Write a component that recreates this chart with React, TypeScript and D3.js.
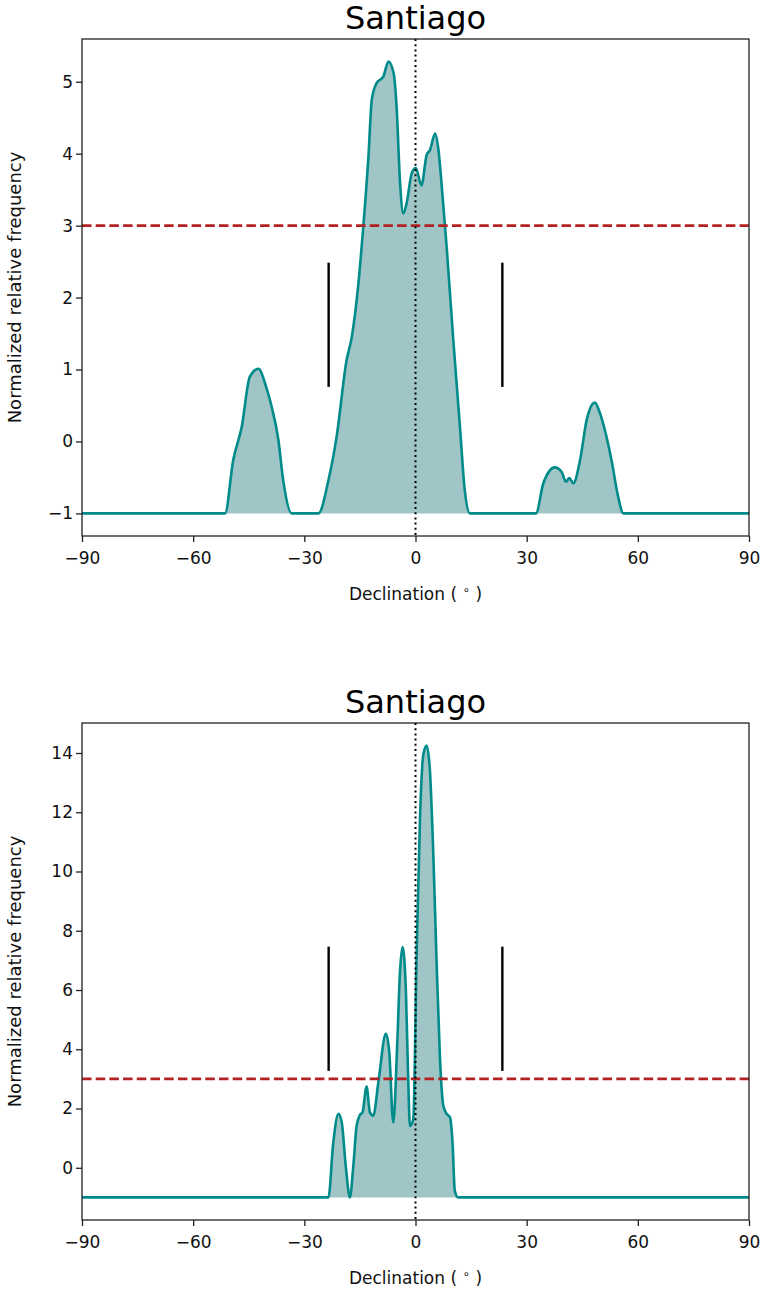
import { useRef, useEffect } from 'react';
import * as d3 from 'd3';

// top panel curve (declination in degrees, normalized frequency)
const topDecl = [-90, -51.4, -49.2, -46.9, -44.7, -42.4, -40.2, -38.8, -37.0, -35.7, -33.4, -26.2,
  -23.5, -21.3, -18.6, -17.2, -15.4, -14.1, -12.7, -11.8, -10.5, -8.7, -7.3, -5.9, -5.1, -4.2, -3.3,
  -2.4, -1.0, 0.1, 1.6, 3.0, 3.9, 5.3, 6.2, 7.1, 8.4, 10.2, 12.0, 13.3, 14.7,
  32.5, 34.5, 37.6, 39.4, 40.6, 41.5, 42.6, 44.4, 46.2, 48.4, 49.8, 51.1, 52.9, 54.7, 56.1, 90];
const topFreq = [-1, -1, -0.26, 0.20, 0.90, 1.01, 0.74, 0.48, 0.02, -0.54, -1, -1,
  -0.54, 0.06, 1.13, 1.45, 2.20, 2.98, 3.96, 4.75, 4.98, 5.07, 5.28, 5.12, 4.65, 3.63, 3.17,
  3.31, 3.73, 3.80, 3.56, 3.98, 4.05, 4.28, 4.05, 3.54, 2.71, 1.41, 0.20, -0.68, -1,
  -1, -0.58, -0.36, -0.42, -0.56, -0.51, -0.58, -0.26, 0.30, 0.54, 0.39, 0.16, -0.26, -0.77, -1, -1];

// bottom panel curve
const botDecl = [-90, -23.5, -22.2, -20.8, -19.9, -18.8, -17.7, -16.8, -15.9, -15.0, -14.3, -13.2,
  -12.3, -11.4, -10.0, -8.0, -7.1, -6.0, -4.9, -4.2, -3.5, -2.6, -2.0, -1.5, -0.6, 0.3, 1.2,
  2.1, 3.0, 3.9, 4.8, 5.7, 6.6, 7.5, 8.4, 9.3, 10.0, 10.6, 11.5, 90];
const botFreq = [-1, -1, 0.84, 1.82, 1.53, 0.03, -1, 0.03, 1.41, 1.78, 1.87, 2.74,
  1.87, 1.76, 2.91, 4.52, 3.94, 1.53, 4.29, 6.59, 7.45, 6.01, 3.14, 1.41, 1.64, 7.16, 11.76,
  13.94, 14.25, 13.4, 10.6, 6.93, 3.71, 2.1, 1.82, 1.70, 0.84, -0.77, -1, -1];

const xTicks = [-90, -60, -30, 0, 30, 60, 90];
const topYTicks = [-1, 0, 1, 2, 3, 4, 5];
const botYTicks = [0, 2, 4, 6, 8, 10, 12, 14];

const threshold = 3;
const obliquity = 23.44;
const baseline = -1;
const title = 'Santiago';

const FONT = 'DejaVu Sans';

export default function App() {
  const svgRef = useRef<SVGSVGElement | null>(null);

  useEffect(() => {
    document.body.style.margin = '0';
    const svg = d3.select(svgRef.current);
    svg.selectAll('*').remove();

    const left = 82, right = 749, axH = 497;
    const fmt = d3.format('d');

    const panels = [
      { decl: topDecl, freq: topFreq, ticks: topYTicks, top: 39 },
      { decl: botDecl, freq: botFreq, ticks: botYTicks, top: 723 },
    ];

    panels.forEach(p => {
      const data = p.decl.map((d, i) => ({ x: d, y: p.freq[i] }));
      const lo = d3.min(data, d => d.y) as number;
      const hi = d3.max(data, d => d.y) as number;
      const pad = (hi - lo) * 0.05;

      const x = d3.scaleLinear().domain([-90, 90]).range([left, right]);
      const y = d3.scaleLinear().domain([lo - pad, hi + pad]).range([p.top + axH, p.top]);

      const g = svg.append('g');

      // filled area under the curve
      const area = d3.area<{ x: number; y: number }>()
        .x(d => x(d.x))
        .y0(y(baseline))
        .y1(d => y(d.y))
        .curve(d3.curveMonotoneX);
      g.append('path')
        .attr('d', area(data))
        .attr('fill', '#5f9ea0')
        .attr('fill-opacity', 0.6);

      const line = d3.line<{ x: number; y: number }>()
        .x(d => x(d.x))
        .y(d => y(d.y))
        .curve(d3.curveMonotoneX);
      g.append('path')
        .attr('d', line(data))
        .attr('fill', 'none')
        .attr('stroke', '#008b8b')
        .attr('stroke-width', 2.6)
        .attr('stroke-linejoin', 'round');

      // threshold line
      g.append('line')
        .attr('x1', left).attr('x2', right)
        .attr('y1', y(threshold)).attr('y2', y(threshold))
        .attr('stroke', '#b22222')
        .attr('stroke-width', 2.6)
        .attr('stroke-dasharray', '9.5,4.2');

      // tropic markers (axes fraction 0.3 - 0.55)
      [-obliquity, obliquity].forEach(v => {
        g.append('line')
          .attr('x1', x(v)).attr('x2', x(v))
          .attr('y1', p.top + axH * 0.45).attr('y2', p.top + axH * 0.7)
          .attr('stroke', '#000')
          .attr('stroke-width', 2.4);
      });

      // zero declination
      g.append('line')
        .attr('x1', x(0)).attr('x2', x(0))
        .attr('y1', p.top).attr('y2', p.top + axH)
        .attr('stroke', '#000')
        .attr('stroke-width', 2)
        .attr('stroke-dasharray', '2,3.2');

      // axes
      const xAxis = g.append('g')
        .attr('transform', `translate(0,${p.top + axH})`)
        .call(d3.axisBottom(x).tickValues(xTicks).tickFormat(d => fmt(d as number)).tickSize(6).tickPadding(9.6));
      const yAxis = g.append('g')
        .attr('transform', `translate(${left},0)`)
        .call(d3.axisLeft(y).tickValues(p.ticks).tickFormat(d => fmt(d as number)).tickSize(6).tickPadding(3));
      [xAxis, yAxis].forEach(a => {
        a.select('.domain').remove();
        a.attr('font-family', FONT).attr('font-size', 17);
        a.selectAll('.tick line').attr('stroke', '#222').attr('stroke-width', 1.3);
        a.selectAll('.tick text').attr('fill', '#111');
      });

      g.append('rect')
        .attr('x', left).attr('y', p.top)
        .attr('width', right - left).attr('height', axH)
        .attr('fill', 'none')
        .attr('stroke', '#222')
        .attr('stroke-width', 1.3);

      // title
      g.append('text')
        .attr('x', (left + right) / 2)
        .attr('y', p.top - 10)
        .attr('text-anchor', 'middle')
        .attr('font-family', FONT)
        .attr('font-size', 32)
        .attr('fill', '#000')
        .text(title);

      // x label
      const xl = g.append('text')
        .attr('x', (left + right) / 2)
        .attr('y', p.top + axH + 64)
        .attr('text-anchor', 'middle')
        .attr('font-family', FONT)
        .attr('font-size', 17)
        .attr('fill', '#111');
      xl.append('tspan').text('Declination ( ');
      xl.append('tspan').attr('dy', -6).attr('font-size', 12).text('∘');
      xl.append('tspan').attr('dy', 6).text(' )');

      // y label
      g.append('text')
        .attr('transform', `translate(21,${p.top + axH / 2}) rotate(-90)`)
        .attr('text-anchor', 'middle')
        .attr('font-family', FONT)
        .attr('font-size', 18)
        .attr('fill', '#111')
        .text('Normalized relative frequency');
    });
  }, []);

  return (
    <svg ref={svgRef} width={763} height={1292}
      style={{ position: 'absolute', left: 0, top: 0, background: '#fff' }} />
  );
}
